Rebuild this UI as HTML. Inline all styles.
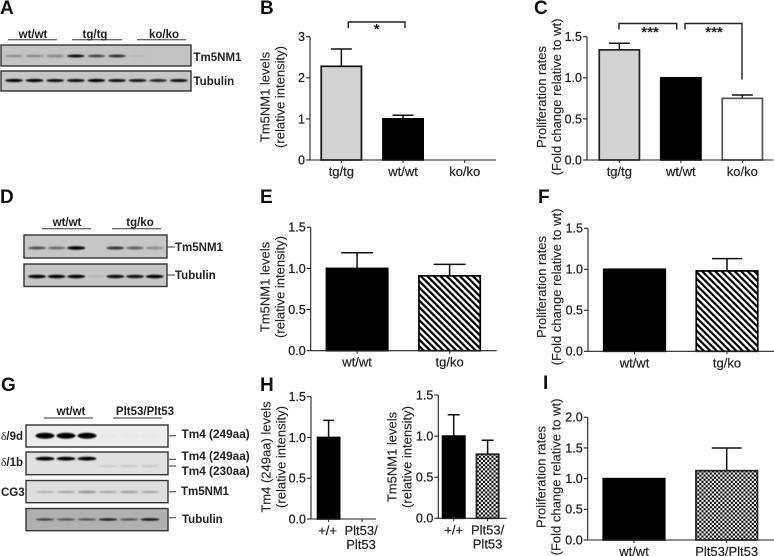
<!DOCTYPE html>
<html lang="en">
<head>
<meta charset="utf-8">
<title>Tm5NM1 western blots and proliferation charts</title>
<style>
html,body{margin:0;padding:0;background:#fff;}
body{width:774px;height:556px;overflow:hidden;}
svg{display:block;filter:blur(0.3px);}
text{font-family:"Liberation Sans",Arial,sans-serif;fill:#1c1c1c;}
.panel{font-size:19px;font-weight:bold;fill:#111;}
.blot-label{font-size:11.5px;font-weight:bold;fill:#222;}
.blot-label-wide{font-size:11.8px;}
.axis-title{font-size:13px;fill:#222;stroke:#222;stroke-width:.12px;text-anchor:middle;}
.tick-label{font-size:12.5px;fill:#222;stroke:#222;stroke-width:.25px;text-anchor:end;}
.cat-label{font-size:13px;fill:#222;stroke:#222;stroke-width:.2px;text-anchor:middle;}
.rule{stroke:#333;stroke-width:1;fill:none;}
.bracket{stroke:#222;stroke-width:1.4;fill:none;}
.star{font-size:15px;font-weight:bold;text-anchor:middle;}
</style>
</head>
<body>
<svg id="figure" xmlns="http://www.w3.org/2000/svg" width="774" height="556" viewBox="0 0 774 556">
<defs>
<pattern id="hatch" width="4.6" height="4.6" patternUnits="userSpaceOnUse" patternTransform="rotate(-45)">
<rect width="4.6" height="4.6" fill="#fff"/>
<rect x="0" width="2.2" height="4.6" fill="#000"/>
</pattern>
<pattern id="checker" width="4.2" height="4.2" patternUnits="userSpaceOnUse">
<rect width="4.2" height="4.2" fill="#000"/>
<rect x="0" y="0" width="2.1" height="2.1" fill="#fff"/>
<rect x="2.1" y="2.1" width="2.1" height="2.1" fill="#fff"/>
</pattern>
<filter id="soft" x="-30%" y="-100%" width="160%" height="300%"><feGaussianBlur stdDeviation="0.9 0.7"/></filter>
</defs>

<text class="panel" x="0" y="14">A</text>
<text class="panel" x="260" y="14">B</text>
<text class="panel" x="534" y="14">C</text>
<text class="panel" x="0" y="203">D</text>
<text class="panel" x="260" y="203">E</text>
<text class="panel" x="538" y="203">F</text>
<text class="panel" x="1" y="391">G</text>
<text class="panel" x="260" y="391">H</text>
<text class="panel" x="543" y="389">I</text>

<g>
<text class="blot-label" x="33" y="38" text-anchor="middle">wt/wt</text>
<text class="blot-label" x="95" y="38" text-anchor="middle">tg/tg</text>
<text class="blot-label" x="164" y="38" text-anchor="middle">ko/ko</text>
<path class="rule" d="M8 39.7H57M72 39.7H122M137 39.7H186"/>
<text class="blot-label" x="193.5" y="61">Tm5NM1</text>
<text class="blot-label" x="193.5" y="85">Tubulin</text>
</g>

<g>
<text class="blot-label" x="67" y="226" text-anchor="middle">wt/wt</text>
<text class="blot-label" x="140" y="226" text-anchor="middle">tg/ko</text>
<path class="rule" d="M42 228.7H91M112 228.7H161M167 247H175M167 275H175"/>
<text class="blot-label" x="175" y="251">Tm5NM1</text>
<text class="blot-label" x="175" y="279">Tubulin</text>
</g>

<g>
<text class="blot-label" x="71" y="415" text-anchor="middle">wt/wt</text>
<text class="blot-label" x="145" y="415" text-anchor="middle">Plt53/Plt53</text>
<path class="rule" d="M44 418H93M113 418H162M169 435.7H176M169 459.3H176M169 466H176M169 491.7H176M169 517.7H176"/>
<text x="1" y="440" style="font-size:11.5px;font-weight:bold;fill:#222"><tspan style="font-weight:normal;font-family:'Liberation Serif',serif">δ</tspan>/9d</text>
<text x="1" y="466" style="font-size:11.5px;font-weight:bold;fill:#222"><tspan style="font-weight:normal;font-family:'Liberation Serif',serif">δ</tspan>/1b</text>
<text class="blot-label" x="1" y="496">CG3</text>
<text class="blot-label blot-label-wide" x="181.5" y="438">Tm4 (249aa)</text>
<text class="blot-label blot-label-wide" x="181.5" y="460">Tm4 (249aa)</text>
<text class="blot-label blot-label-wide" x="181.5" y="475">Tm4 (230aa)</text>
<text class="blot-label" x="181" y="495">Tm5NM1</text>
<text class="blot-label" x="182" y="523">Tubulin</text>
</g>

<path class="bracket" d="M348.3 28V22H405V28"/>
<text class="star" x="376.7" y="34">*</text>
<path class="bracket" d="M619 29.5V23.5H676.7V29.5"/>
<text class="star" x="650" y="37">***</text>
<path class="bracket" d="M685 29.5V23.5H742V79.5"/>
<text class="star" x="714" y="37">***</text>

<g>
<text class="axis-title" transform="translate(269.5,97) rotate(-90)">Tm5NM1 levels</text>
<text class="axis-title" transform="translate(284.5,97) rotate(-90)">(relative intensity)</text>
<text class="axis-title" transform="translate(546,97) rotate(-90)">Proliferation rates</text>
<text class="axis-title" transform="translate(561,97) rotate(-90)">(Fold change relative to wt)</text>
<text class="axis-title" transform="translate(269.5,287) rotate(-90)">Tm5NM1 levels</text>
<text class="axis-title" transform="translate(284.5,287) rotate(-90)">(relative intensity)</text>
<text class="axis-title" transform="translate(546,287) rotate(-90)">Proliferation rates</text>
<text class="axis-title" transform="translate(561,287) rotate(-90)">(Fold change relative to wt)</text>
<text class="axis-title" transform="translate(270.5,457) rotate(-90)">Tm4 (249aa) levels</text>
<text class="axis-title" transform="translate(285.5,457) rotate(-90)">(relative intensity)</text>
<text class="axis-title" transform="translate(396.5,457) rotate(-90)">Tm5NM1 levels</text>
<text class="axis-title" transform="translate(411.5,457) rotate(-90)">(relative intensity)</text>
<text class="axis-title" transform="translate(545.5,477) rotate(-90)">Proliferation rates</text>
<text class="axis-title" transform="translate(560.5,477) rotate(-90)">(Fold change relative to wt)</text>
</g>
</svg>

<script>
// Chart B
const bCategories = ['tg/tg', 'wt/wt', 'ko/ko'];
const bValues = [2.28, 1.0, 0];
const bErrorTops = [2.7, 1.09, 0];
const bTicks = ['0', '1', '2', '3'];
// Chart C
const cCategories = ['tg/tg', 'wt/wt', 'ko/ko'];
const cValues = [1.34, 1.0, 0.75];
const cErrorTops = [1.42, 1.0, 0.79];
const cTicks = ['0.0', '0.5', '1.0', '1.5'];
// Chart E
const eCategories = ['wt/wt', 'tg/ko'];
const eValues = [1.0, 0.91];
const eErrorTops = [1.19, 1.05];
const eTicks = ['0.0', '0.5', '1.0', '1.5'];
// Chart F
const fCategories = ['wt/wt', 'tg/ko'];
const fValues = [1.0, 0.98];
const fErrorTops = [1.0, 1.13];
const fTicks = ['0.0', '0.5', '1.0', '1.5'];
// Chart H, Tm4
const h1Categories = ['+/+', 'Plt53/\nPlt53'];
const h1Values = [1.0, 0];
const h1ErrorTops = [1.21, 0];
const h1Ticks = ['0.0', '0.5', '1.0', '1.5'];
// Chart H, Tm5NM1
const h2Categories = ['+/+', 'Plt53/\nPlt53'];
const h2Values = [1.0, 0.78];
const h2ErrorTops = [1.26, 0.95];
const h2Ticks = ['0.0', '0.5', '1.0', '1.5'];
// Chart I
const iCategories = ['wt/wt', 'Plt53/Plt53'];
const iValues = [1.0, 1.13];
const iErrorTops = [1.0, 1.5];
const iTicks = ['0.0', '0.5', '1.0', '1.5', '2.0'];

// Blot band strengths, one per lane (0 = no band)
const blotATm5 = [0.28, 0.32, 0.35, 0.9, 0.65, 0.75, 0.06, 0, 0];
const blotATub = [0.95, 0.95, 0.9, 0.9, 1, 0.9, 0.85, 0.8, 0.9];
const blotDTm5 = [0.55, 0.45, 1, 0, 0.7, 0.5, 0.3];
const blotDTub = [1, 0.95, 1, 0.08, 0.9, 0.85, 0.95];
const blotG9d = [1, 1, 1, 0.02, 0.02, 0.02];
const blotG1b = [1, 1, 1, 0, 0, 0];
const blotG1bLower = [0, 0, 0, 0.12, 0.14, 0.14];
const blotGCg3 = [0.18, 0.22, 0.3, 0.22, 0.25, 0.22];
const blotGTub = [0.65, 0.55, 0.55, 0.8, 0.55, 0.9];

const SVG_NS = 'http://www.w3.org/2000/svg';
const figure = document.getElementById('figure');

function make(parent, tag, attrs) {
  const node = document.createElementNS(SVG_NS, tag);
  for (const key in attrs) node.setAttribute(key, attrs[key]);
  parent.appendChild(node);
  return node;
}

function drawBarChart(name, layout, categories, values, errorTops, ticks, fills, borders) {
  const yMax = Number(ticks[ticks.length - 1]);
  const yScale = v => layout.bottom - (v / yMax) * (layout.bottom - layout.top);
  const xLeft = i => layout.first + i * layout.step;
  const xMid = i => xLeft(i) + layout.barWidth / 2;

  const chart = make(figure, 'g', {});
  
  

  values.forEach((value, i) => {
    if (value <= 0) return;
    const top = yScale(value);
    const errorTop = yScale(errorTops[i]);
    if (errorTops[i] > value) {
      const err = make(chart, 'path', {
        d: 'M' + xMid(i) + ' ' + top + 'V' + errorTop + 'M' + (xMid(i) - layout.cap / 2) + ' ' + errorTop + 'H' + (xMid(i) + layout.cap / 2),
        stroke: '#111', 'stroke-width': 1.5, fill: 'none'
      });
      
      
    }
    const bar = make(chart, 'rect', {
      x: xLeft(i) + 0.75, y: top, width: layout.barWidth - 1.5, height: yScale(0) - top,
      fill: fills[i], stroke: borders[i], 'stroke-width': 1.7
    });
    
    
  });

  const yAxis = make(chart, 'line', { x1: layout.axisX, x2: layout.axisX, y1: layout.top, y2: layout.bottom, stroke: '#222', 'stroke-width': 1.1 });
  
  

  const xAxis = make(chart, 'line', { x1: layout.axisX, x2: layout.right, y1: layout.bottom, y2: layout.bottom, stroke: '#222', 'stroke-width': 1.1 });
  
  

  ticks.forEach(label => {
    const y = yScale(Number(label));
    const tick = make(chart, 'line', { x1: layout.axisX - 4, x2: layout.axisX, y1: y, y2: y, stroke: '#222', 'stroke-width': 1.1 });
    
    
    const text = make(chart, 'text', { class: 'tick-label', x: layout.axisX - 5, y: y + 4.4 });
    
    
    text.textContent = label;
  });

  categories.forEach((label, i) => {
    const x = xMid(i) + (layout.labelShift || 0);
    const tick = make(chart, 'line', { x1: xMid(i), x2: xMid(i), y1: layout.bottom, y2: layout.bottom + 3, stroke: '#222', 'stroke-width': 1 });
    
    
    const text = make(chart, 'text', { class: 'cat-label', x: x, y: layout.bottom + 16 });
    
    
    label.split('\n').forEach((line, n) => {
      const span = make(text, 'tspan', { x: x, dy: n ? 14 : 0 });
      span.textContent = line;
    });
  });
}

function drawBlot(name, box, background, rows, lane) {
  const group = make(figure, 'g', {});
  
  
  const frame = make(group, 'rect', { x: box.x, y: box.y, width: box.w, height: box.h, fill: background, stroke: '#333', 'stroke-width': 1.4 });
  
  
  rows.forEach(row => {
    row.strengths.forEach((strength, i) => {
      if (strength <= 0) return;
      const band = make(group, 'ellipse', {
        cx: lane.first + i * lane.step, cy: row.y,
        rx: lane.width / 2, ry: row.thick / 2 + strength * 0.5,
        fill: '#000', opacity: Math.min(1, strength * 1.05), filter: 'url(#soft)'
      });
      
      
    });
  });
}

drawBarChart('b', { axisX: 310, top: 36.7, bottom: 160, right: 496, first: 320.5, step: 61.7, barWidth: 41.7, cap: 21 }, bCategories, bValues, bErrorTops, bTicks, ['#d2d2d2', '#000', '#fff'], ['#111', '#000', '#111']);
drawBarChart('c', { axisX: 587, top: 36.7, bottom: 160, right: 773, first: 598.5, step: 61.5, barWidth: 41.7, cap: 21 }, cCategories, cValues, cErrorTops, cTicks, ['#d2d2d2', '#000', '#fff'], ['#222', '#000', '#555']);
drawBarChart('e', { axisX: 310.7, top: 227.3, bottom: 350.7, right: 496.7, first: 325.7, step: 92.5, barWidth: 62.8, cap: 32 }, eCategories, eValues, eErrorTops, eTicks, ['#000', 'url(#hatch)'], ['#000', '#000']);
drawBarChart('f', { axisX: 588, top: 228.3, bottom: 351.3, right: 774, first: 603, step: 92.5, barWidth: 63, cap: 30 }, fCategories, fValues, fErrorTops, fTicks, ['#000', 'url(#hatch)'], ['#000', '#000']);
drawBarChart('h-tm4', { axisX: 311, top: 396.7, bottom: 519, right: 376, first: 316.8, step: 33.5, barWidth: 23.6, cap: 11, labelShift: -1 }, h1Categories, h1Values, h1ErrorTops, h1Ticks, ['#000', '#000'], ['#000', '#000']);
drawBarChart('h-tm5nm1', { axisX: 438.3, top: 395, bottom: 518.3, right: 506.7, first: 441.8, step: 33.9, barWidth: 23.8, cap: 12 }, h2Categories, h2Values, h2ErrorTops, h2Ticks, ['#000', 'url(#checker)'], ['#000', '#222']);
drawBarChart('i', { axisX: 587.7, top: 417.3, bottom: 540, right: 774, first: 602.5, step: 92.7, barWidth: 63, cap: 30 }, iCategories, iValues, iErrorTops, iTicks, ['#000', 'url(#checker)'], ['#000', '#222']);

const laneA = { first: 14, step: 20.6, width: 18 };
drawBlot('a-tm5nm1', { x: 1, y: 45, w: 190, h: 21 }, '#c3c3c3', [{ y: 56, thick: 2, strengths: blotATm5 }], laneA);
drawBlot('a-tubulin', { x: 1, y: 71, w: 190, h: 20 }, '#c6c6c6', [{ y: 80.5, thick: 2.2, strengths: blotATub }], laneA);

const laneD = { first: 37, step: 19.6, width: 18 };
drawBlot('d-tm5nm1', { x: 24, y: 235, w: 143, h: 23 }, '#c6c6c6', [{ y: 248, thick: 2.4, strengths: blotDTm5 }], laneD);
drawBlot('d-tubulin', { x: 24, y: 264, w: 143, h: 22.5 }, '#c6c6c6', [{ y: 276.5, thick: 2.6, strengths: blotDTub }], laneD);

const laneG = { first: 45, step: 21, width: 19 };
drawBlot('g-9d', { x: 26, y: 425, w: 142, h: 22 }, '#ededed', [{ y: 435.7, thick: 5, strengths: blotG9d }], laneG);
drawBlot('g-1b', { x: 26, y: 452, w: 142, h: 22.7 }, '#e0e0e0', [{ y: 458.7, thick: 2.8, strengths: blotG1b }, { y: 466, thick: 1.6, strengths: blotG1bLower }], laneG);
drawBlot('g-cg3', { x: 26, y: 480.5, w: 142, h: 22.2 }, '#dedede', [{ y: 492, thick: 2.4, strengths: blotGCg3 }], laneG);
drawBlot('g-tubulin', { x: 26, y: 508.5, w: 142, h: 22.2 }, '#b0b0b0', [{ y: 519.5, thick: 1.6, strengths: blotGTub }], laneG);
</script>
</body>
</html>
